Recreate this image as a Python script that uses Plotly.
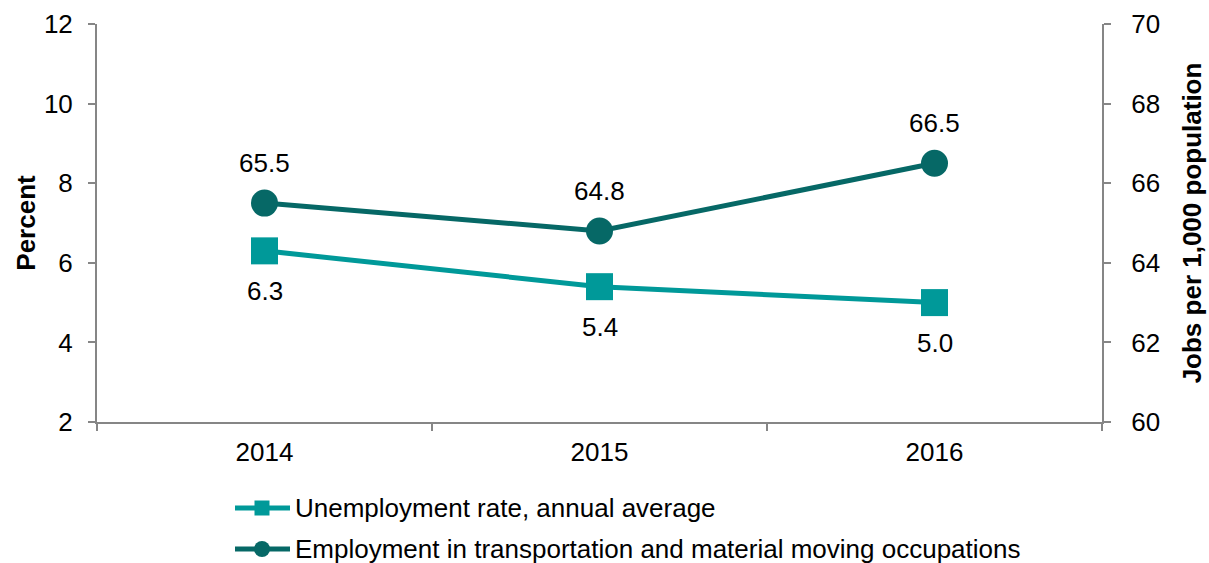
import plotly.graph_objects as go

# Data
years = ["2014", "2015", "2016"]
unemployment_rate = [6.3, 5.4, 5.0]          # percent, left axis
transport_jobs = [65.5, 64.8, 66.5]          # jobs per 1,000 population, right axis
series_names = [
    "Unemployment rate, annual average",
    "Employment in transportation and material moving occupations",
]

LIGHT = "#009999"
DARK = "#066866"
AXIS = "#868686"
FONT = "Liberation Sans, Arial, sans-serif"
FS = 26
W, H = 1209, 563
ML, MR, MT, MB = 97, 107, 24, 141
PLOT_W = W - ML - MR
PLOT_H = H - MT - MB


def px_x(px):
    """Page pixel column -> paper x."""
    return (px - ML) / PLOT_W


def px_y(py):
    """Page pixel row -> paper y."""
    return (H - MB - py) / PLOT_H


fig = go.Figure()

fig.add_trace(go.Scatter(
    x=years, y=unemployment_rate, name=series_names[0],
    mode="lines+markers",
    line=dict(color=LIGHT, width=5),
    marker=dict(symbol="square", size=27, color=LIGHT),
    yaxis="y", showlegend=False,
))
fig.add_trace(go.Scatter(
    x=years, y=transport_jobs, name=series_names[1],
    mode="lines+markers",
    line=dict(color=DARK, width=5),
    marker=dict(symbol="circle", size=27, color=DARK),
    yaxis="y2", showlegend=False,
))

# Value labels: below the unemployment markers, above the employment markers
annotations = []
for i, v in enumerate(unemployment_rate):
    annotations.append(dict(x=i, y=v, xref="x", yref="y", text=f"{v:.1f}",
                            showarrow=False, yshift=-40,
                            font=dict(family=FONT, size=FS, color="black")))
for i, v in enumerate(transport_jobs):
    annotations.append(dict(x=i, y=v, xref="x", yref="y2", text=f"{v:.1f}",
                            showarrow=False, yshift=40,
                            font=dict(family=FONT, size=FS, color="black")))

# Key below the chart: line sample with marker, then series name
shapes = []
key_rows = [508, 549]
key_x0, key_x1, key_mid, key_text = 235, 290, 262, 293
for name, color, row, kind in zip(series_names, [LIGHT, DARK], key_rows, ["rect", "circle"]):
    shapes.append(dict(type="line", xref="paper", yref="paper",
                       x0=px_x(key_x0), x1=px_x(key_x1), y0=px_y(row), y1=px_y(row),
                       line=dict(color=color, width=5)))
    half = 7.5 if kind == "rect" else 8
    shapes.append(dict(type=kind, xref="paper", yref="paper",
                       x0=px_x(key_mid - half), x1=px_x(key_mid + half),
                       y0=px_y(row - half), y1=px_y(row + half),
                       fillcolor=color, line=dict(width=0)))
    annotations.append(dict(x=px_x(key_text), y=px_y(row), xref="paper", yref="paper",
                            text=name, showarrow=False, xanchor="left", yanchor="middle",
                            font=dict(family=FONT, size=FS, color="black")))

fig.update_layout(
    width=W, height=H,
    margin=dict(l=ML, r=MR, t=MT, b=MB),
    paper_bgcolor="white", plot_bgcolor="white",
    font=dict(family=FONT, size=FS, color="black"),
    annotations=annotations,
    shapes=shapes,
    showlegend=False,
    xaxis=dict(
        type="category", range=[-0.5, 2.5], automargin=False,
        showline=True, linecolor=AXIS, linewidth=2,
        ticks="outside", tickson="boundaries", ticklen=7, tickwidth=2, tickcolor=AXIS,
        showgrid=False, zeroline=False,
        tickfont=dict(family=FONT, size=FS, color="black"),
        ticklabelstandoff=6,
    ),
    yaxis=dict(
        range=[2, 12], dtick=2, automargin=False,
        showline=True, linecolor=AXIS, linewidth=2,
        ticks="outside", ticklen=7, tickwidth=2, tickcolor=AXIS,
        showgrid=False, zeroline=False,
        tickfont=dict(family=FONT, size=FS, color="black"),
        ticklabelstandoff=10,
        title=dict(text="<b>Percent</b>", font=dict(family=FONT, size=FS), standoff=1),
    ),
    yaxis2=dict(
        range=[60, 70], dtick=2, overlaying="y", side="right", automargin=False,
        showline=True, linecolor=AXIS, linewidth=2,
        ticks="outside", ticklen=7, tickwidth=2, tickcolor=AXIS,
        showgrid=False, zeroline=False,
        tickfont=dict(family=FONT, size=FS, color="black"),
        ticklabelstandoff=15,
        title=dict(text="<b>Jobs per 1,000 population</b>", font=dict(family=FONT, size=FS), standoff=24),
    ),
)

fig.write_html("out.html")
